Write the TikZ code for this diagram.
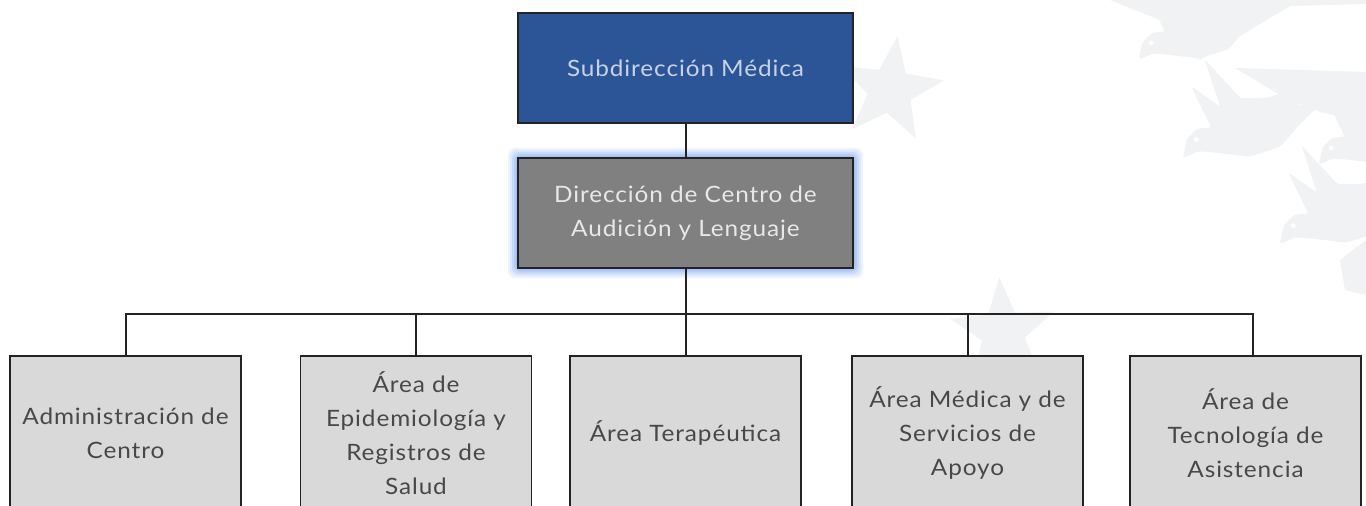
\documentclass[tikz,border=0pt]{standalone}
\usepackage{fontspec}
\setmainfont{Lato}[FakeStretch=1.08, LetterSpace=4]
\usetikzlibrary{shapes.geometric}
\definecolor{topblue}{RGB}{44,85,151}
\definecolor{toptext}{RGB}{200,210,230}
\definecolor{midfill}{RGB}{128,128,128}
\definecolor{midtext}{RGB}{232,232,232}
\definecolor{botfill}{RGB}{217,217,217}
\definecolor{bottext}{RGB}{72,72,72}
\definecolor{boxline}{RGB}{35,35,35}
\definecolor{glowblue}{RGB}{120,165,245}
\definecolor{wm}{RGB}{241,242,243}
\tikzset{
  basebox/.style={draw=boxline, line width=1.4pt, rectangle, inner sep=0pt, align=center,
    font=\fontsize{16.9}{25.5}\selectfont},
  topbox/.style={basebox, fill=topblue, text=toptext, minimum width=251.25pt, minimum height=82.5pt},
  midbox/.style={basebox, fill=midfill, text=midtext, minimum width=251.25pt, minimum height=82.5pt},
  botbox/.style={basebox, fill=botfill, text=bottext, minimum width=173.25pt, minimum height=115.5pt},
  conn/.style={draw=boxline, line width=1.5pt},
  wmstar/.style={star, star points=5, star point ratio=2.4, fill=wm, inner sep=0pt, minimum size=82pt},
  dove/.pic={
    \fill[wm, rounded corners=2pt] (-16,5) -- (-4,-6) -- (8,-8) -- (18,-2) -- (24,-40) -- (34,-12)
      -- (46,-52) -- (52,-8) -- (70,4) -- (100,14) -- (88,24) -- (104,34) -- (80,38)
      -- (56,44) -- (30,36) -- (10,18) -- (-2,8) -- cycle;
    \fill[white] (2,-1) circle[radius=2];
  }
}
\begin{document}
\begin{tikzpicture}[x=0.75pt,y=-0.75pt]
\clip (0,0) rectangle (1366,506);
\fill[white] (0,0) rectangle (1366,506);
% watermark
\node[wmstar, rotate=-8] (s1) at (890,90) {};
\node[wmstar, rotate=4] (s2) at (1003,332) {};
\fill[wm] (1110,0) -- (1366,0) -- (1366,4) -- (1290,6) -- (1250,30) -- (1200,60) -- (1160,20) -- cycle;
\fill[wm] (1235,68) -- (1366,72) -- (1366,122) -- (1320,112) -- (1280,95) -- cycle;
\pic[rotate=35, scale=1.1] at (1150,45) {dove};
\pic[rotate=35, scale=1.2] at (1195,142) {dove};
\pic[rotate=35, scale=1.2] at (1292,228) {dove};
\pic[rotate=35, scale=1.1] at (1330,150) {dove};
\fill[wm] (1340,260) -- (1366,240) -- (1366,295) -- (1345,290) -- cycle;
% glow
\foreach \g/\o in {10/0.12,8/0.15,6/0.2,4/0.25,2/0.3}{
  \fill[glowblue, opacity=\o, rounded corners=5pt] (518-\g,158-\g) rectangle (853+\g,268+\g);
}
% nodes
\node[topbox] (sub) at (685.5,68) {Subdirección Médica};
\node[midbox] (dir) at (685.5,213) {Dirección de Centro de\\Audición y Lenguaje};
\node[botbox] (b1) at (125.5,433) {Administración de\\Centro};
\node[botbox] (b2) at (416,433) {Área de\\Epidemiología y\\Registros de\\Salud};
\node[botbox] (b3) at (685.5,433) {Área Terapéutica};
\node[botbox] (b4) at (967.5,433) {Área Médica y de\\Servicios de\\Apoyo};
\node[botbox] (b5) at (1245.5,433) {Área de\\Tecnología de\\Asistencia};
% connectors
\draw[conn] (sub.south) -- (dir.north);
\draw[conn] (dir.south) -- ++(0,45) coordinate (bus);
\coordinate (k5) at ([xshift=5.6pt]b5.north);
\draw[conn] (b1.north) -- (b1.north |- bus) -- (k5 |- bus) -- (k5);
\draw[conn] (b2.north) -- (b2.north |- bus);
\draw[conn] (b3.north) -- (b3.north |- bus);
\draw[conn] (b4.north) -- (b4.north |- bus);
\end{tikzpicture}
\end{document}
